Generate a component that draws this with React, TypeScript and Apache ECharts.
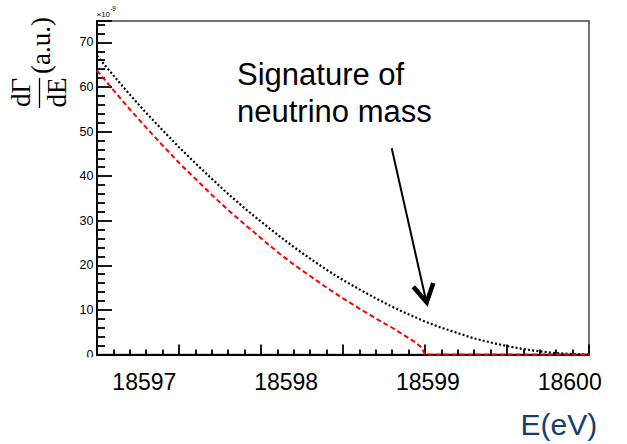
import React, { useEffect, useRef } from "react";
import * as echarts from "echarts";

// Electron energy (eV) sample points
const energies = [
  18597.0, 18597.1, 18597.2, 18597.3, 18597.4, 18597.5, 18597.6, 18597.7, 18597.8, 18597.9,
  18598.0, 18598.1, 18598.2, 18598.3, 18598.4, 18598.5, 18598.6, 18598.7, 18598.8, 18598.9,
  18599.0, 18599.1, 18599.2, 18599.3, 18599.4, 18599.5, 18599.6, 18599.7, 18599.8, 18599.9,
  18600.0,
];
// Massless neutrino spectrum (black dotted), units of 1e-9
const masslessRate = [
  67.0, 62.6, 58.3, 54.2, 50.3, 46.5, 42.9, 39.4, 36.0, 32.8,
  29.8, 26.9, 24.1, 21.5, 19.0, 16.7, 14.6, 12.6, 10.7, 9.0,
  7.4, 6.0, 4.8, 3.6, 2.7, 1.9, 1.2, 0.7, 0.3, 0.1,
  0,
];
// Massive neutrino spectrum (red dashed)
const massiveEnergies = [
  18597.0, 18597.1, 18597.2, 18597.3, 18597.4, 18597.5, 18597.6, 18597.7, 18597.8, 18597.9,
  18598.0, 18598.1, 18598.2, 18598.3, 18598.4, 18598.5, 18598.6, 18598.7, 18598.8, 18598.9,
  18598.95, 18598.98, 18599.0, 18599.5, 18600.0,
];
const massiveRate = [
  63.7, 59.3, 55.0, 50.9, 46.9, 43.0, 39.4, 35.8, 32.4, 29.2,
  26.1, 23.0, 20.2, 17.6, 15.0, 12.6, 10.3, 8.1, 6.0, 3.7,
  2.5, 1.5, 0, 0, 0,
];
const xTickLabels = [18597, 18598, 18599, 18600];

const SANS = "'Liberation Sans', Arial, sans-serif";
const SERIF = "'Liberation Serif', 'Times New Roman', serif";

export default function App() {
  const ref = useRef<HTMLDivElement>(null);

  useEffect(() => {
    const chart = echarts.init(ref.current!, null, { renderer: "svg" });
    chart.setOption({
      animation: false,
      backgroundColor: "#ffffff",
      grid: {
        left: 97,
        right: 38,
        top: 21,
        bottom: 89.5,
        show: true,
        borderColor: "#444",
        borderWidth: 1.5,
        containLabel: false,
        outerBoundsMode: "none",
      },
      xAxis: [
        {
          type: "value",
          position: "bottom",
          min: 18597,
          max: 18600,
          interval: 0.5,
          axisLine: { show: true, onZero: false, lineStyle: { color: "#000", width: 2 } },
          axisTick: { show: true, inside: true, length: 10, lineStyle: { color: "#000", width: 1.8 } },
          minorTick: { show: true, splitNumber: 5, length: 5, lineStyle: { color: "#000", width: 1.8 } },
          axisLabel: { show: false },
          splitLine: { show: false },
        },
        {
          type: "value",
          position: "bottom",
          min: 18596.666,
          max: 18600.136,
          axisLine: { show: false },
          axisTick: { show: false },
          splitLine: { show: false },
          axisLabel: {
            customValues: xTickLabels,
            formatter: (v: number) => String(Math.round(v)),
            fontSize: 23,
            fontFamily: SANS,
            color: "#000",
            margin: 16,
          },
        },
      ],
      yAxis: {
        type: "value",
        min: 0,
        max: 74.8,
        interval: 10,
        axisLine: { show: true, onZero: false, lineStyle: { color: "#000", width: 2 } },
        axisTick: { show: true, inside: true, length: 15, lineStyle: { color: "#000", width: 1.8 } },
        minorTick: { show: true, splitNumber: 5, length: 8, lineStyle: { color: "#000", width: 1.8 } },
        axisLabel: { fontSize: 12.5, fontFamily: SANS, color: "#000", margin: 3.5, showMaxLabel: false },
        splitLine: { show: false },
      },
      series: [
        {
          type: "line",
          xAxisIndex: 0,
          yAxisIndex: 0,
          data: energies.map((e, i) => [e, masslessRate[i]]),
          symbol: "none",
          clip: false,
          lineStyle: { color: "#000", width: 2.2, type: [2, 2.2] },
          z: 3,
        },
        {
          type: "line",
          xAxisIndex: 0,
          yAxisIndex: 0,
          data: massiveEnergies.map((e, i) => [e, massiveRate[i]]),
          symbol: "none",
          clip: false,
          lineStyle: { color: "#ff0000", width: 2, type: [5, 3] },
          z: 4,
        },
      ],
      graphic: [
        // cover lower half of the "0" label as in the slide
        { type: "rect", z: 100, shape: { x: 55, y: 357.5, width: 40, height: 12 }, style: { fill: "#fff" } },
        // y-axis title: dΓ/dE (a.u.)
        { type: "text", z: 100, x: 20.8, y: 92.5, rotation: Math.PI / 2,
          style: { text: "dΓ", font: `27px ${SERIF}`, fill: "#000", align: "center", verticalAlign: "middle" } },
        { type: "line", z: 100, shape: { x1: 39.5, y1: 78, x2: 39.5, y2: 108 }, style: { stroke: "#000", lineWidth: 1.3 } },
        { type: "text", z: 100, x: 56.7, y: 92.5, rotation: Math.PI / 2,
          style: { text: "dE", font: `27px ${SERIF}`, fill: "#000", align: "center", verticalAlign: "middle" } },
        { type: "text", z: 100, x: 41, y: 45.5, rotation: Math.PI / 2,
          style: { text: "(a.u.)", font: `27px ${SERIF}`, fill: "#000", align: "center", verticalAlign: "middle" } },
        // exponent
        { type: "text", z: 100, x: 96.5, y: 14,
          style: { text: "×10", font: `8px ${SANS}`, fill: "#000", align: "left", verticalAlign: "middle" } },
        { type: "text", z: 100, x: 110.2, y: 8,
          style: { text: "-9", font: `6.5px ${SANS}`, fill: "#000", align: "left", verticalAlign: "middle" } },
        // annotation
        { type: "text", z: 100, x: 237, y: 55.8,
          style: { text: "Signature of\nneutrino mass", font: `31px ${SANS}`, lineHeight: 37, fill: "#000", align: "left", verticalAlign: "top" } },
        { type: "line", z: 100, shape: { x1: 391.7, y1: 148.3, x2: 425.5, y2: 298 }, style: { stroke: "#000", lineWidth: 2 } },
        { type: "polyline", z: 100, shape: { points: [[413.3, 286.7], [426.7, 302.3], [433.3, 283]] },
          style: { stroke: "#000", lineWidth: 4.5, fill: "none", lineJoin: "miter" } },
        // E(eV)
        { type: "text", z: 100, x: 520.5, y: 424.6,
          style: { text: "E(eV)", font: `30px ${SANS}`, fill: "#123f6e", align: "left", verticalAlign: "middle" } },
      ],
    });
    return () => chart.dispose();
  }, []);

  return (
    <div
      ref={ref}
      style={{ position: "fixed", left: 0, top: 0, width: 627, height: 444, background: "#fff" }}
    />
  );
}
